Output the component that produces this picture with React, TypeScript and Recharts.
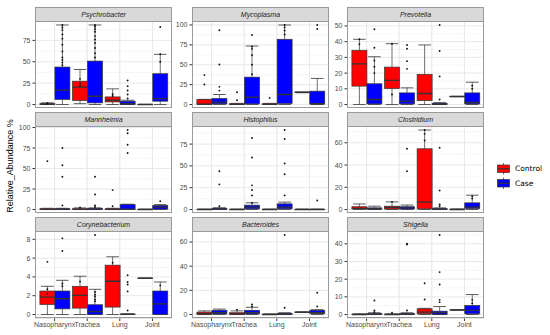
import React from 'react'
import { Bar, CartesianGrid, ComposedChart, XAxis, YAxis } from 'recharts'

type Box = { lo: number; q1: number; med: number; q3: number; hi: number; pts: number[] }

const sites = ['Nasopharynx', 'Trachea', 'Lung', 'Joint']
const genera = [
  'Psychrobacter',
  'Mycoplasma',
  'Prevotella',
  'Mannheimia',
  'Histophilus',
  'Clostridium',
  'Corynebacterium',
  'Bacteroides',
  'Shigella',
]

const psychrobacterControl: Box[] = [
  { lo: 0, q1: 0, med: 0.5, q3: 1, hi: 2, pts: [1, 1.5] },
  { lo: 1, q1: 4.7, med: 20.3, q3: 27.3, hi: 41, pts: [30, 25, 22] },
  { lo: 0, q1: 3, med: 5, q3: 8.9, hi: 18.3, pts: [12, 10] },
  { lo: 0, q1: 0, med: 0, q3: 0.2, hi: 0.3, pts: [] },
]
const psychrobacterCase: Box[] = [
  { lo: 0, q1: 5.9, med: 16.8, q3: 43.8, hi: 93, pts: [93, 90, 87, 82, 77, 70, 62, 55, 52, 49, 46] },
  { lo: 0, q1: 1.9, med: 9.7, q3: 50.8, hi: 93, pts: [93, 91, 88, 85, 80, 76, 72, 66, 60, 55] },
  { lo: 0, q1: 0, med: 1, q3: 3.9, hi: 5, pts: [28, 21.5, 16.4, 11.7, 7] },
  { lo: 0, q1: 3.9, med: 7, q3: 36, hi: 58.7, pts: [90.7, 58.7, 50] },
]

const mycoplasmaControl: Box[] = [
  { lo: 0, q1: 0, med: 0.5, q3: 6.3, hi: 6.5, pts: [37, 25.2] },
  { lo: 0, q1: 0, med: 0.3, q3: 1, hi: 1.5, pts: [15.5, 5.4] },
  { lo: 0, q1: 0, med: 0.3, q3: 1, hi: 1.5, pts: [8.3] },
  { lo: 14.8, q1: 15, med: 15.5, q3: 15.5, hi: 15.5, pts: [] },
]
const mycoplasmaCase: Box[] = [
  { lo: 0, q1: 0.8, med: 2.9, q3: 7.6, hi: 12.6, pts: [93.3, 50.4, 22.2, 17.5] },
  { lo: 0, q1: 0.8, med: 9.2, q3: 34.4, hi: 73.5, pts: [87.4, 73, 70, 62, 50, 38] },
  { lo: 0, q1: 1.3, med: 12.6, q3: 82, hi: 100, pts: [100, 97, 93, 88] },
  { lo: 0, q1: 0.8, med: 1, q3: 16.8, hi: 32.8, pts: [100, 95] },
]

const prevotellaControl: Box[] = [
  { lo: 0, q1: 11.7, med: 25.9, q3: 34.5, hi: 41.5, pts: [38.3, 41.5] },
  { lo: 0, q1: 10.2, med: 15.3, q3: 23.8, hi: 38.7, pts: [6.4, 38.7] },
  { lo: 0, q1: 2.5, med: 7, q3: 19.2, hi: 37.9, pts: [] },
  { lo: 5, q1: 5, med: 5.1, q3: 5.1, hi: 5.2, pts: [] },
]
const prevotellaCase: Box[] = [
  { lo: 0, q1: 0.4, med: 3.2, q3: 13.2, hi: 30.4, pts: [47.9, 36.1, 28, 24, 20] },
  { lo: 0, q1: 0.4, med: 2.1, q3: 7.4, hi: 10.6, pts: [37.9, 35.5, 27.6, 22.7] },
  { lo: 0, q1: 0, med: 0.3, q3: 0.8, hi: 1.2, pts: [50.6, 34, 17.9, 3.2] },
  { lo: 0, q1: 0.4, med: 1.3, q3: 7.4, hi: 14.2, pts: [12, 10] },
]

const mannheimiaControl: Box[] = [
  { lo: 0, q1: 0, med: 0.3, q3: 1, hi: 1.5, pts: [59] },
  { lo: 0, q1: 0, med: 0.3, q3: 1, hi: 2, pts: [2.5] },
  { lo: 0, q1: 0, med: 0.3, q3: 1, hi: 1.5, pts: [23.7, 4] },
  { lo: 0, q1: 0, med: 0, q3: 0.3, hi: 0.5, pts: [] },
]
const mannheimiaCase: Box[] = [
  { lo: 0, q1: 0, med: 0.3, q3: 1, hi: 1.5, pts: [75, 54, 40, 5] },
  { lo: 0, q1: 0, med: 0.4, q3: 1.5, hi: 2, pts: [40, 18.4, 5, 3] },
  { lo: 0, q1: 0, med: 0.5, q3: 6, hi: 6.5, pts: [97, 93, 79, 69] },
  { lo: 0, q1: 0.5, med: 3, q3: 5, hi: 6, pts: [10.2] },
]

const histophilusControl: Box[] = [
  { lo: 0, q1: 0, med: 0, q3: 0.3, hi: 0.5, pts: [] },
  { lo: 0, q1: 0, med: 0, q3: 0.3, hi: 0.5, pts: [] },
  { lo: 0, q1: 0, med: 0, q3: 0.3, hi: 0.5, pts: [] },
  { lo: 0, q1: 0, med: 0, q3: 0.3, hi: 0.5, pts: [] },
]
const histophilusCase: Box[] = [
  { lo: 0, q1: 0.3, med: 0.5, q3: 1.5, hi: 2, pts: [43.8, 28.8, 3.8] },
  { lo: 0, q1: 0.8, med: 2.7, q3: 5, hi: 7.7, pts: [82, 59.6, 27.7, 22.3, 16.2, 7.7] },
  { lo: 0, q1: 0.8, med: 2.7, q3: 6.5, hi: 8.5, pts: [91.2, 80.8, 52.7, 40.4, 16.2] },
  { lo: 0, q1: 0, med: 0, q3: 0.3, hi: 0.5, pts: [10.4] },
]

const clostridiumControl: Box[] = [
  { lo: 0, q1: 0.5, med: 1, q3: 2.5, hi: 5, pts: [] },
  { lo: 0, q1: 0.5, med: 2, q3: 3, hi: 6.9, pts: [6.9] },
  { lo: 0, q1: 0.6, med: 6.6, q3: 54.6, hi: 71.5, pts: [71.5, 68, 62] },
  { lo: 0, q1: 0, med: 0, q3: 0.3, hi: 0.5, pts: [] },
]
const clostridiumCase: Box[] = [
  { lo: 0, q1: 0.3, med: 0.8, q3: 1.5, hi: 3, pts: [] },
  { lo: 0, q1: 0.5, med: 1.5, q3: 2.5, hi: 4, pts: [54.6, 34.5] },
  { lo: 0, q1: 0, med: 0.3, q3: 0.8, hi: 1.5, pts: [55.5, 17.1, 4.5, 3] },
  { lo: 0, q1: 0.9, med: 2.1, q3: 6, hi: 12.9, pts: [12, 10] },
]

const corynebacteriumControl: Box[] = [
  { lo: 0, q1: 1.07, med: 1.86, q3: 2.5, hi: 3.0, pts: [5.6, 2.7, 2.2] },
  { lo: 0, q1: 0.68, med: 2.04, q3: 3.0, hi: 4.07, pts: [3.5] },
  { lo: 0, q1: 0.79, med: 3.54, q3: 5.25, hi: 6.14, pts: [5.5] },
  { lo: 3.84, q1: 3.85, med: 3.86, q3: 3.86, hi: 3.87, pts: [] },
]
const corynebacteriumCase: Box[] = [
  { lo: 0, q1: 0.6, med: 1.68, q3: 2.5, hi: 3.64, pts: [8.1, 6.75, 3.3, 3.0] },
  { lo: 0, q1: 0, med: 0.32, q3: 1.04, hi: 2.68, pts: [8.46, 2.4, 2.1, 1.9, 1.6, 1.4] },
  { lo: 0, q1: 0, med: 0.02, q3: 0.05, hi: 0.08, pts: [4.18, 3.46, 3.2, 2.46, 0.43] },
  { lo: 0, q1: 0, med: 1.14, q3: 2.5, hi: 3.46, pts: [3.1] },
]

const bacteroidesControl: Box[] = [
  { lo: 0, q1: 0, med: 0.8, q3: 2, hi: 3, pts: [] },
  { lo: 0, q1: 0, med: 0.5, q3: 1.5, hi: 3, pts: [3.9] },
  { lo: 0, q1: 0, med: 0, q3: 0.3, hi: 0.5, pts: [] },
  { lo: 1.8, q1: 1.9, med: 1.9, q3: 2, hi: 2.1, pts: [] },
]
const bacteroidesCase: Box[] = [
  { lo: 0, q1: 0.5, med: 1.5, q3: 3.5, hi: 4.5, pts: [] },
  { lo: 0, q1: 0.5, med: 1.5, q3: 3.5, hi: 6, pts: [8.3, 6.7] },
  { lo: 0, q1: 0, med: 0.3, q3: 1, hi: 1.5, pts: [65.8, 5.6] },
  { lo: 0, q1: 0.8, med: 1.5, q3: 3.5, hi: 4, pts: [18, 6.7] },
]

const shigellaControl: Box[] = [
  { lo: 0, q1: 0, med: 0, q3: 0.2, hi: 0.4, pts: [] },
  { lo: 0, q1: 0, med: 0, q3: 0.2, hi: 0.4, pts: [1] },
  { lo: 0, q1: 0.4, med: 1.3, q3: 3.2, hi: 3.5, pts: [17.7, 8.5] },
  { lo: 2.5, q1: 2.55, med: 2.6, q3: 2.6, hi: 2.65, pts: [] },
]
const shigellaCase: Box[] = [
  { lo: 0, q1: 0, med: 0.2, q3: 0.5, hi: 1, pts: [7.9, 2.3, 1.3] },
  { lo: 0, q1: 0, med: 0.2, q3: 0.5, hi: 1, pts: [40, 39.6, 2.3] },
  { lo: 0, q1: 0, med: 1.1, q3: 1.9, hi: 4.5, pts: [45, 24, 17, 8.3, 7] },
  { lo: 0, q1: 0.4, med: 2.3, q3: 5.1, hi: 11.3, pts: [8.3, 6.4] },
]

const controls = [
  psychrobacterControl,
  mycoplasmaControl,
  prevotellaControl,
  mannheimiaControl,
  histophilusControl,
  clostridiumControl,
  corynebacteriumControl,
  bacteroidesControl,
  shigellaControl,
]
const cases = [
  psychrobacterCase,
  mycoplasmaCase,
  prevotellaCase,
  mannheimiaCase,
  histophilusCase,
  clostridiumCase,
  corynebacteriumCase,
  bacteroidesCase,
  shigellaCase,
]
const tickSets = [
  [0, 25, 50, 75],
  [0, 25, 50, 75, 100],
  [0, 10, 20, 30, 40, 50],
  [0, 25, 50, 75, 100],
  [0, 25, 50, 75],
  [0, 20, 40, 60],
  [0, 2, 4, 6, 8],
  [0, 20, 40, 60],
  [0, 10, 20, 30, 40],
]

const COL_X = [35, 192, 347]
const ROW_Y = [7, 112, 217]
const PW = 137
const STRIP = 13.5
const PH = 87.5
const AXW = 35
const XAXH = 18
const MT = 5 // room above the plot so top tick labels are not clipped
const PAD = PW / 4.2 / 10
const FONT = '"Liberation Sans", Arial, sans-serif'
const INK = '#333333'

const spanOf = (b: Box): [number, number] => [Math.min(b.lo, ...b.pts), Math.max(b.hi, ...b.pts)]

const boxShape = (key: 'control' | 'case', fill: string) => (props: any) => {
  const { x, y, width, height, payload } = props
  const b: Box = payload[key]
  const [lo, hi] = spanOf(b)
  const top = Math.min(y, y + height)
  const h = Math.abs(height)
  const py = (v: number) => (hi === lo ? top : top + (h * (hi - v)) / (hi - lo))
  const cx = x + width / 2
  const cap = width * 0.42
  return (
    <g>
      <line x1={cx} x2={cx} y1={py(b.hi)} y2={py(b.q3)} stroke={INK} strokeWidth={0.7} />
      <line x1={cx} x2={cx} y1={py(b.q1)} y2={py(b.lo)} stroke={INK} strokeWidth={0.7} />
      <line x1={cx - cap} x2={cx + cap} y1={py(b.hi)} y2={py(b.hi)} stroke={INK} strokeWidth={0.8} />
      <line x1={cx - cap} x2={cx + cap} y1={py(b.lo)} y2={py(b.lo)} stroke={INK} strokeWidth={0.8} />
      <rect
        x={x}
        y={py(b.q3)}
        width={width}
        height={Math.max(py(b.q1) - py(b.q3), 0)}
        fill={fill}
        stroke={INK}
        strokeWidth={0.7}
      />
      <line x1={x} x2={x + width} y1={py(b.med)} y2={py(b.med)} stroke={INK} strokeWidth={1.3} />
      {b.pts.map((p, i) => (
        <circle key={i} cx={cx} cy={py(p)} r={0.95} fill="#111" />
      ))}
    </g>
  )
}

function Panel({ idx }: { idx: number }) {
  const col = idx % 3
  const row = Math.floor(idx / 3)
  const bottom = row === 2
  const ctrl = controls[idx]
  const cs = cases[idx]
  const ticks = tickSets[idx]
  const data = sites.map((site, i) => ({ site, control: ctrl[i], case: cs[i] }))
  const max = Math.max(...ctrl.map((b) => spanOf(b)[1]), ...cs.map((b) => spanOf(b)[1]))
  const domain = [-0.05 * max, 1.05 * max]
  const step = ticks[1] - ticks[0]
  const minors: number[] = []
  for (let i = -1; i < ticks.length; i++) {
    const v = ticks[0] + (i + 0.5) * step
    if (v > domain[0] && v < domain[1]) minors.push(v)
  }
  const left = COL_X[col]
  const stripTop = ROW_Y[row]
  const plotTop = stripTop + STRIP
  return (
    <>
      <div style={{ position: 'absolute', left: left - AXW, top: plotTop - MT }}>
        <ComposedChart
          width={AXW + PW}
          height={MT + PH + (bottom ? XAXH : 0)}
          data={data}
          margin={{ top: MT, right: 0, bottom: 0, left: 0 }}
          barCategoryGap="5%"
          barGap={0}
        >
          <CartesianGrid
            horizontalValues={minors}
            verticalValues={sites}
            stroke="#f0f0f0"
            strokeWidth={0.6}
          />
          <CartesianGrid vertical={false} stroke="#e8e8e8" strokeWidth={1} />
          <CartesianGrid horizontal={false} verticalValues={sites} stroke="#e8e8e8" strokeWidth={1} />
          <XAxis
            dataKey="site"
            hide={!bottom}
            height={XAXH}
            padding={{ left: PAD, right: PAD }}
            interval={0}
            axisLine={false}
            tickLine={{ stroke: INK }}
            tickSize={2.5}
            tickMargin={1}
            tick={{ fontSize: 7, fill: '#4d4d4d', fontFamily: FONT }}
          />
          <YAxis
            type="number"
            domain={domain}
            ticks={ticks}
            allowDataOverflow
            interval={0}
            width={AXW}
            axisLine={false}
            tickLine={{ stroke: INK }}
            tickSize={2.5}
            tickMargin={2}
            tick={{ fontSize: 7, fill: '#4d4d4d', fontFamily: FONT }}
          />
          <Bar
            dataKey={(d: any) => spanOf(d.control)}
            fill="#ff0000"
            shape={boxShape('control', '#ff0000')}
            isAnimationActive={false}
          />
          <Bar
            dataKey={(d: any) => spanOf(d.case)}
            fill="#0000ff"
            shape={boxShape('case', '#0000ff')}
            isAnimationActive={false}
          />
        </ComposedChart>
      </div>
      <div
        style={{
          position: 'absolute',
          left,
          top: plotTop,
          width: PW,
          height: PH,
          border: '1px solid #9a9a9a',
          boxSizing: 'border-box',
          pointerEvents: 'none',
        }}
      />
      <div
        style={{
          position: 'absolute',
          left,
          top: stripTop,
          width: PW,
          height: STRIP + 1,
          background: '#d9d9d9',
          border: '1px solid #9a9a9a',
          boxSizing: 'border-box',
          fontFamily: FONT,
          fontStyle: 'italic',
          fontSize: 7,
          color: '#1a1a1a',
          display: 'flex',
          alignItems: 'center',
          justifyContent: 'center',
        }}
      >
        {genera[idx]}
      </div>
    </>
  )
}

export default function App() {
  return (
    <div
      style={{
        position: 'absolute',
        left: 0,
        top: 0,
        width: 550,
        height: 335,
        background: '#fff',
        fontFamily: FONT,
        overflow: 'hidden',
      }}
    >
      {genera.map((g, i) => (
        <Panel key={g} idx={i} />
      ))}
      <div
        style={{
          position: 'absolute',
          left: 10,
          top: 166,
          transform: 'translate(-50%, -50%) rotate(-90deg)',
          whiteSpace: 'nowrap',
          fontSize: 9,
          color: '#000',
        }}
      >
        Relative_Abundance %
      </div>
      <svg style={{ position: 'absolute', left: 0, top: 0 }} width={550} height={335}>
        {[
          { label: 'Control', fill: '#ff0000', y: 165 },
          { label: 'Case', fill: '#0000ff', y: 179.5 },
        ].map((k) => (
          <g key={k.label}>
            <line x1={503.5} x2={503.5} y1={k.y - 2} y2={k.y + 9.5} stroke={INK} strokeWidth={0.7} />
            <rect x={497.5} y={k.y} width={12} height={7.5} fill={k.fill} stroke={INK} strokeWidth={0.7} />
            <line x1={497.5} x2={509.5} y1={k.y + 3.75} y2={k.y + 3.75} stroke={INK} strokeWidth={1.2} />
            <text
              x={515}
              y={k.y + 3.75}
              dominantBaseline="central"
              fontSize={7.5}
              fontFamily='"DejaVu Sans", sans-serif'
              fill="#000"
            >
              {k.label}
            </text>
          </g>
        ))}
      </svg>
    </div>
  )
}
